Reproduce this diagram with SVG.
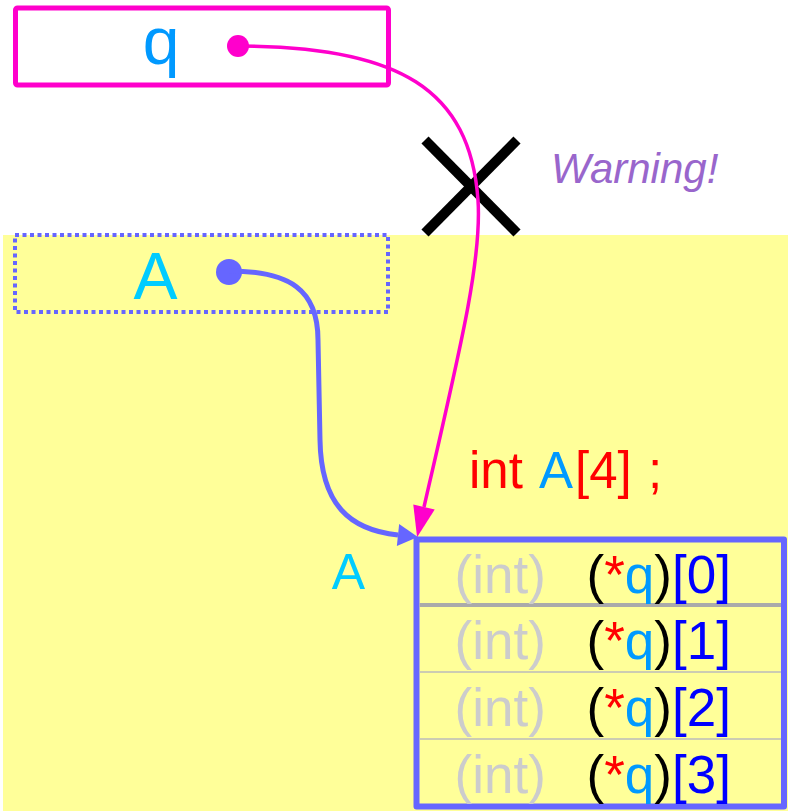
<svg xmlns="http://www.w3.org/2000/svg" width="788" height="811" viewBox="0 0 788 811">
<style>
text{font-family:"Liberation Sans",Arial,sans-serif;}
.cell{font-size:53px;}
.gray{fill:#cccccc;}
.blk{fill:#000000;}
.red{fill:#ff0000;}
.qc{fill:#0099ff;}
.idx{fill:#0000ff;}
</style>
<defs>
<marker id="ahBlue" markerUnits="userSpaceOnUse" markerWidth="20" markerHeight="22" refX="0" refY="11" orient="auto" overflow="visible">
<path d="M0,0 L20,11 L0,22 z" fill="#6666ff"/>
</marker>
<marker id="ahPink" markerUnits="userSpaceOnUse" markerWidth="31" markerHeight="22" refX="0" refY="11" orient="auto" overflow="visible">
<path d="M0,0 L31,11 L0,22 z" fill="#ff00cc"/>
</marker>
</defs>
<rect x="3" y="235" width="785" height="576" fill="#ffff99"/>

<g id="node-q">
<rect x="15.5" y="8" width="373" height="77" rx="2" fill="#ffffff" stroke="#ff00cc" stroke-width="5"/>
<text x="161" y="64" font-size="66" text-anchor="middle" fill="#0099ff">q</text>
<circle cx="238" cy="46" r="11" fill="#ff00cc"/>
</g>

<g id="node-A">
<rect x="15" y="235" width="373" height="77" fill="none" stroke="#6666ff" stroke-width="4" stroke-dasharray="4 3.5"/>
<text x="155.5" y="299" font-size="66" text-anchor="middle" fill="#00ccff">A</text>
<circle cx="229" cy="272" r="13" fill="#6666ff"/>
</g>

<g id="warning">
<line x1="425" y1="140" x2="517" y2="233" stroke="#000" stroke-width="10"/>
<line x1="517" y1="140" x2="425" y2="233" stroke="#000" stroke-width="10"/>
<text x="551" y="183" font-size="42" font-style="italic" fill="#9966cc">Warning!</text>
</g>

<g id="decl">
<text y="488" font-size="51"><tspan x="469" class="red">int</tspan><tspan x="539" class="qc">A</tspan><tspan x="575" class="red">[4]</tspan><tspan x="648" class="red">;</tspan></text>
<text x="348.5" y="589" font-size="50" text-anchor="middle" fill="#00ccff">A</text>
</g>

<g id="array">
<rect x="416.5" y="539.5" width="367.5" height="267" fill="#ffff99" stroke="#6666ff" stroke-width="6" stroke-linejoin="round"/>
<line x1="419.5" y1="605" x2="781" y2="605" stroke="#aaaaaa" stroke-width="4"/>
<line x1="419.5" y1="672" x2="781" y2="672" stroke="#bbbbbb" stroke-width="1.5"/>
<line x1="419.5" y1="739" x2="781" y2="739" stroke="#bbbbbb" stroke-width="1.5"/>
<text class="cell" y="593"><tspan x="454.5" class="gray">(int)</tspan><tspan x="586.5" class="blk">(</tspan><tspan class="red">*</tspan><tspan class="qc">q</tspan><tspan class="blk">)</tspan><tspan class="idx">[0]</tspan></text>
<text class="cell" y="659"><tspan x="454.5" class="gray">(int)</tspan><tspan x="586.5" class="blk">(</tspan><tspan class="red">*</tspan><tspan class="qc">q</tspan><tspan class="blk">)</tspan><tspan class="idx">[1]</tspan></text>
<text class="cell" y="726"><tspan x="454.5" class="gray">(int)</tspan><tspan x="586.5" class="blk">(</tspan><tspan class="red">*</tspan><tspan class="qc">q</tspan><tspan class="blk">)</tspan><tspan class="idx">[2]</tspan></text>
<text class="cell" y="793"><tspan x="454.5" class="gray">(int)</tspan><tspan x="586.5" class="blk">(</tspan><tspan class="red">*</tspan><tspan class="qc">q</tspan><tspan class="blk">)</tspan><tspan class="idx">[3]</tspan></text>
</g>

<g id="connectors">
<path d="M238,46 C400,46 470,90 478,200 C482,260 460,350 424,507" fill="none" stroke="#ff00cc" stroke-width="3.5" marker-end="url(#ahPink)"/>
<path d="M229,271 C290,271 318,290 318,340 L320,440 C321,505 350,530 398,535" fill="none" stroke="#6666ff" stroke-width="5" marker-end="url(#ahBlue)"/>
</g>
</svg>
